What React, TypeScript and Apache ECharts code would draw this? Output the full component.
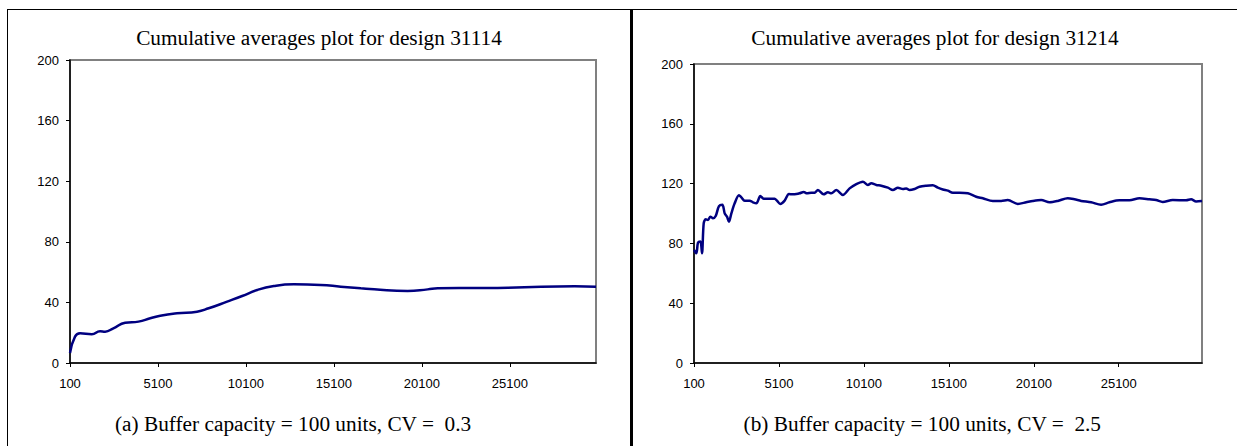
import React, { useEffect, useRef } from "react";
import * as echarts from "echarts";

// Simulation step at which each cumulative average was recorded
const designASteps = [
  100, 385, 670, 1337, 1810, 2095, 2568, 3235, 3993, 4660, 5230, 6182, 7322, 7983,
  9032, 9887, 10742, 11688, 12828, 14350, 15493, 16630, 17389, 19293, 20433, 21003,
  23090, 24994, 26893, 28793, 30000,
];
// Cumulative average, design 31114
const designAValues = [
  6.6, 17.4, 19.6, 19.0, 21.0, 20.7, 22.9, 26.6, 27.3, 29.5, 31.2, 32.8, 33.9, 36.1,
  40.5, 44.2, 48.2, 50.8, 51.9, 51.5, 50.4, 49.3, 48.6, 47.5, 48.6, 49.3,
  49.5, 49.7, 50.4, 50.6, 50.4,
];

const designBSteps = [
  100, 241, 335, 476, 571, 671, 788, 923, 1065, 1218, 1376, 1571, 1771, 1906, 2041,
  2159, 2300, 2494, 2747, 2888, 3082, 3376, 3570, 3770, 4006, 4200, 4553, 4847, 4982,
  5182, 5435, 5688, 5923, 6123, 6317, 6553, 6747, 7006, 7200, 7394, 7729, 7982, 8182,
  8476, 8864, 9259, 9653, 10041, 10335, 10535, 10829, 11123, 11511, 11805, 12100,
  12394, 12593, 12788, 13082, 13376, 13770, 14158, 14452, 14747, 15041, 15335, 15729,
  16217, 16711, 17099, 17687, 18181, 18570, 19158, 19652, 20040, 20534, 21023, 21511,
  22099, 22493, 22887, 23475, 24064, 24552, 25140, 25729, 26317, 26905, 27299, 27687,
  28276, 29064, 29358, 29652, 30000,
];
// Cumulative average, design 31214
const designBValues = [
  75.6, 73.4, 80.5, 81.2, 73.4, 93.4, 96.1, 95.7, 97.9, 96.8, 98.3, 105.0, 105.9, 100.1,
  97.9, 94.5, 100.1, 106.8, 112.2, 110.8, 108.6, 108.6, 107.5, 106.8, 111.7, 109.9,
  109.9, 109.9, 108.6, 106.4, 108.6, 113.0, 112.8, 113.0, 113.5, 114.4, 113.5, 113.9,
  113.9, 115.7, 112.8, 114.2, 113.5, 115.7, 112.4, 116.8, 119.7, 121.3, 119.1, 120.2,
  119.1, 118.6, 117.3, 115.7, 117.3, 116.4, 116.8, 115.7, 116.4, 117.9, 118.6, 118.9,
  117.3, 116.1, 115.3, 113.9, 113.9, 113.5, 111.2, 110.2, 108.4, 108.4, 109.0, 106.4,
  107.5, 108.4, 109.0, 107.5, 108.4, 110.2, 109.5, 108.4, 107.5, 105.9, 107.5, 108.8,
  108.8, 110.2, 109.5, 109.0, 107.7, 109.0, 108.8, 109.5, 108.1, 108.4,
];

const xTickValues = [100, 5100, 10100, 15100, 20100, 25100];
const yMin = 0;
const yMax = 200;
const yStep = 40;

const titleA = "Cumulative averages plot for design 31114";
const titleB = "Cumulative averages plot for design 31214";
const captionA = "(a) Buffer capacity = 100 units, CV =  0.3";
const captionB = "(b) Buffer capacity = 100 units, CV =  2.5";

const zip = (xs: number[], ys: number[]) => xs.map((x, i) => [x, ys[i]]);

const SANS = "'Liberation Sans', Arial, sans-serif";
const SERIF = "'Liberation Serif', 'Times New Roman', serif";
const LINE = "#000080";
const TEXT_FONT = `21.3px ${SERIF}`;

function xAxisFor(gridIndex: number) {
  return {
    type: "value",
    gridIndex,
    min: 100,
    max: 30000,
    splitLine: { show: false },
    axisLine: { show: true, lineStyle: { color: "#000", width: 1.5 } },
    axisTick: {
      show: true,
      length: 4,
      customValues: xTickValues,
      lineStyle: { color: "#000", width: 1 },
    },
    axisLabel: {
      customValues: xTickValues,
      formatter: (v: number) => String(v),
      margin: 14,
      color: "#000",
      fontFamily: SANS,
      fontSize: 13,
    },
  };
}

function yAxisFor(gridIndex: number) {
  return {
    type: "value",
    gridIndex,
    min: yMin,
    max: yMax,
    interval: yStep,
    splitLine: { show: false },
    axisLine: { show: true, lineStyle: { color: "#000", width: 1.5 } },
    axisTick: { show: true, length: 4, lineStyle: { color: "#000", width: 1 } },
    axisLabel: {
      margin: 11,
      color: "#000",
      fontFamily: SANS,
      fontSize: 13,
    },
  };
}

export default function App() {
  const ref = useRef<HTMLDivElement>(null);

  useEffect(() => {
    document.body.style.margin = "0";
    const chart = echarts.init(ref.current!, null, { renderer: "svg" });
    chart.setOption({
      animation: false,
      backgroundColor: "#fff",
      grid: [
        {
          left: 70,
          top: 60,
          width: 526,
          height: 303,
          show: true,
          borderColor: "#808080",
          borderWidth: 2,
          backgroundColor: "transparent",
        },
        {
          left: 694,
          top: 64,
          width: 508,
          height: 299,
          show: true,
          borderColor: "#808080",
          borderWidth: 2,
          backgroundColor: "transparent",
        },
      ],
      xAxis: [xAxisFor(0), xAxisFor(1)],
      yAxis: [yAxisFor(0), yAxisFor(1)],
      series: [
        {
          type: "line",
          xAxisIndex: 0,
          yAxisIndex: 0,
          data: zip(designASteps, designAValues),
          smooth: 0.5,
          showSymbol: false,
          lineStyle: { color: LINE, width: 2.5 },
        },
        {
          type: "line",
          xAxisIndex: 1,
          yAxisIndex: 1,
          data: zip(designBSteps, designBValues),
          smooth: 0.3,
          showSymbol: false,
          lineStyle: { color: LINE, width: 2.5 },
        },
      ],
      graphic: [
        // panel frame: top rule, outer left edge and the heavy divider
        {
          type: "line",
          shape: { x1: 7, y1: 9.5, x2: 1237, y2: 9.5 },
          style: { stroke: "#000", lineWidth: 1 },
        },
        {
          type: "line",
          shape: { x1: 7.5, y1: 9, x2: 7.5, y2: 446 },
          style: { stroke: "#000", lineWidth: 1 },
        },
        {
          type: "line",
          shape: { x1: 631.5, y1: 9, x2: 631.5, y2: 446 },
          style: { stroke: "#000", lineWidth: 3 },
        },
        {
          type: "text",
          x: 319,
          y: 38,
          style: {
            text: titleA,
            fill: "#000",
            font: TEXT_FONT,
            textAlign: "center",
            textVerticalAlign: "middle",
          },
        },
        {
          type: "text",
          x: 935,
          y: 38,
          style: {
            text: titleB,
            fill: "#000",
            font: TEXT_FONT,
            textAlign: "center",
            textVerticalAlign: "middle",
          },
        },
        {
          type: "text",
          x: 115,
          y: 424,
          style: {
            text: captionA,
            fill: "#000",
            font: TEXT_FONT,
            textAlign: "left",
            textVerticalAlign: "middle",
          },
        },
        {
          type: "text",
          x: 1101,
          y: 424,
          style: {
            text: captionB,
            fill: "#000",
            font: TEXT_FONT,
            textAlign: "right",
            textVerticalAlign: "middle",
          },
        },
      ],
    });
    return () => chart.dispose();
  }, []);

  return <div ref={ref} style={{ width: 1237, height: 446 }} />;
}
